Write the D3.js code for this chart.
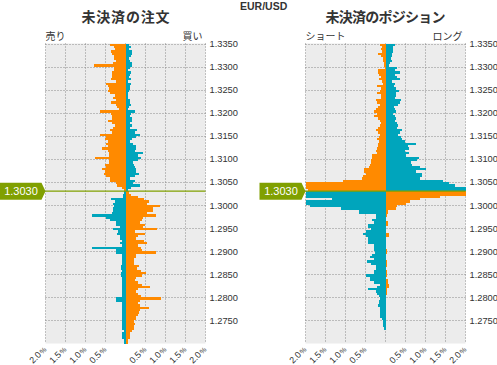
<!DOCTYPE html>
<html><head><meta charset="utf-8">
<script src="https://cdn.jsdelivr.net/npm/d3@7/dist/d3.min.js"></script>
<style>body{margin:0;background:#fff}svg{display:block}</style>
</head><body><svg id="c" width="497" height="365"></svg>
<script>
// ---------- data ----------
const pair = "EUR/USD";
const panelTitles = ["未決済の注文", "未決済のポジション"];
const sideLabels = [["売り", "買い"], ["ショート", "ロング"]];
const priceTicks = ["1.3350","1.3300","1.3250","1.3200","1.3150","1.3100","1.3050","1.3000","1.2950","1.2900","1.2850","1.2800","1.2750"];
const pctTicks = [-2, -1.5, -1, -0.5, 0, 0.5, 1, 1.5, 2];
const pctLabels = ["2.0", "1.5", "1.0", "0.5", "", "0.5", "1.0", "1.5", "2.0"];
const currentPrice = 1.3030;
const priceLabel = "1.3030";
const levelTop = 1.3350, levelBottom = 1.2700, levelStep = 0.0005;

// values in % per price bucket, from the top bucket (1.3345–1.3350) downwards
const orderSell = [
0.38,0.29,0.27,0.37,0.35,0.29,0.29,0.25,0.31,0.78,
0.28,0.29,0.33,0.35,0.33,0.37,0.23,0.49,0.43,0.42,
0.45,0.39,0.27,0.31,0.25,0.37,0.23,0.21,0.17,0.64,
0.37,0.33,0.35,0.43,0.35,0.27,0.31,0.39,0.33,0.64,
0.48,0.52,0.43,0.48,0.45,0.58,0.43,0.42,0.42,0.77,
0.42,0.42,0.52,0.50,0.58,0.52,0.53,0.48,0.38,0.39,
0.23,0.21,0.08,0.05,
0.03,0.06,0.06,0.37,0.27,0.31,
0.29,0.31,0.31,0.33,0.83,0.48,0.38,0.25,0.25,0.14,
0.31,0.18,0.22,0.14,0.14,0.10,0.14,0.10,0.83,0.25,
0.25,0.10,0.08,0.10,0.10,0.08,0.12,0.12,0.08,0.12,
0.12,0.10,0.10,0.08,0.10,0.10,0.10,0.10,0.10,0.10,
0.25,0.25,0.08,0.08,0.08,0.10,0.08,0.10,0.10,0.10,
0.08,0.10,0.08,0.10,0.05,0.08,0.08,0.08,0.05,0.04];
const orderBuy = [
0.09,0.13,0.09,0.15,0.15,0.13,0.09,0.11,0.15,0.15,
0.11,0.07,0.13,0.11,0.08,0.13,0.07,0.13,0.11,0.11,
0.09,0.07,0.05,0.07,0.11,0.11,0.13,0.08,0.07,0.23,
0.13,0.12,0.15,0.15,0.11,0.15,0.11,0.28,0.23,0.36,
0.26,0.15,0.11,0.19,0.25,0.25,0.23,0.43,0.30,0.38,
0.30,0.19,0.22,0.23,0.26,0.25,0.33,0.23,0.12,0.23,
0.19,0.36,0.13,0.05,
0.08,0.13,0.30,0.46,0.58,0.53,
0.86,0.68,0.68,0.54,0.75,0.44,0.42,0.36,0.48,0.43,
0.78,0.23,0.48,0.30,0.27,0.45,0.54,0.30,0.38,0.40,
0.76,0.25,0.25,0.22,0.22,0.20,0.33,0.28,0.38,0.50,
0.42,0.25,0.23,0.32,0.40,0.60,0.30,0.25,0.30,0.38,
0.88,0.35,0.30,0.35,0.58,0.35,0.33,0.30,0.25,0.25,
0.20,0.23,0.22,0.22,0.15,0.10,0.10,0.10,0.07,0.07];
const posShort = [
0.15,0.08,0.12,0.08,0.18,0.11,0.07,0.07,0.05,0.03,
0.02,0.20,0.18,0.17,0.12,0.17,0.09,0.07,0.22,0.12,
0.15,0.22,0.11,0.11,0.25,0.22,0.15,0.19,0.25,0.30,
0.22,0.28,0.19,0.15,0.12,0.15,0.18,0.25,0.18,0.15,
0.17,0.22,0.17,0.18,0.20,0.21,0.23,0.22,0.34,0.34,
0.36,0.36,0.40,0.42,0.55,0.54,0.48,0.57,0.58,1.07,
2.35,2.60,2.40,1.93,
2.70,2.90,2.50,1.35,2.40,2.20,
1.90,1.12,0.67,0.67,0.25,0.23,0.35,0.30,0.45,0.45,
0.36,0.50,0.57,0.50,0.44,0.45,0.44,0.30,0.30,0.28,
0.27,0.33,0.39,0.28,0.47,0.36,0.23,0.25,0.28,0.30,
0.49,0.40,0.38,0.28,0.15,0.22,0.43,0.23,0.22,0.17,
0.15,0.17,0.17,0.18,0.15,0.15,0.15,0.15,0.15,0.08,
0.07,0.07,0.07,0.05,0,0,0,0,0,0];
const posLong = [
0.23,0.18,0.18,0.18,0.17,0.15,0.14,0.15,0.10,0.08,
0.28,0.23,0.37,0.23,0.28,0.37,0.17,0.23,0.21,0.27,
0.34,0.27,0.27,0.23,0.39,0.35,0.30,0.20,0.23,0.25,
0.18,0.23,0.27,0.23,0.28,0.31,0.29,0.42,0.35,0.32,
0.39,0.40,0.48,0.75,0.56,0.58,0.48,0.58,0.52,0.83,
0.78,0.64,0.67,0.85,1.00,0.75,0.92,0.92,0.87,1.43,
1.58,1.73,2.20,2.50,
2.60,2.10,1.36,0.86,0.62,0.52,
0.29,0.27,0.05,0.05,0.03,0.02,0.02,0.05,0.05,0.02,
0.02,0.02,0.08,0.08,0.02,0.02,0,0,0,0.03,
0.03,0,0,0,0.03,0.03,0.03,0,0.03,0.03,
0.03,0,0.05,0.05,0.08,0.08,0.03,0.03,0.03,0,
0,0,0,0,0,0,0,0,0,0,
0,0,0,0,0,0,0,0,0,0];

// ---------- style ----------
const ORANGE = "#ff8a00", TEAL = "#00a5bc", GREEN = "#80a000";
const TEXT = "#333";
const LATIN = "'Liberation Sans', Arial, sans-serif";
const CJK = "'Noto Sans CJK JP', sans-serif";

const svg = d3.select("#c");
const y = d3.scaleLinear().domain([levelBottom, levelTop]).range([343.5, 43.5]);

const nLevels = orderSell.length;
const levels = d3.range(nLevels).map(i => +(levelTop - (i + 1) * levelStep).toFixed(4));

svg.append("text").attr("x", 240).attr("y", 9.5).text(pair)
  .attr("font-family", LATIN).attr("font-weight", "bold").attr("font-size", 10.5).attr("fill", TEXT);

const panels = [
  {left: 45.5, title: panelTitles[0], sides: sideLabels[0], L: orderSell, R: orderBuy, titleLen: 88, lblX: -0.5},
  {left: 305.5, title: panelTitles[1], sides: sideLabels[1], L: posShort, R: posLong, titleLen: 120, lblX: 259.5}
];

panels.forEach(p => {
  const w = 160;
  const x = d3.scaleLinear().domain([-2, 2]).range([p.left, p.left + w]).clamp(true);
  const g = svg.append("g");
  g.append("rect").attr("x", p.left).attr("y", y(levelTop)).attr("width", w)
    .attr("height", y(levelBottom) - y(levelTop)).attr("fill", "#ececec");

  // grid
  g.selectAll(".hg").data(priceTicks).join("line")
    .attr("x1", p.left).attr("x2", p.left + w)
    .attr("y1", d => Math.round(y(+d)) + 0.5).attr("y2", d => Math.round(y(+d)) + 0.5)
    .attr("stroke", "#8a8a8a").attr("stroke-dasharray", "1,2");
  g.selectAll(".vg").data(pctTicks).join("line")
    .attr("x1", d => x(d)).attr("x2", d => x(d))
    .attr("y1", y(levelTop)).attr("y2", y(levelBottom))
    .attr("stroke", "#8a8a8a").attr("stroke-dasharray", "1,2");

  const rows = levels.map((lv, i) => ({lv, l: p.L[i], r: p.R[i], above: lv >= currentPrice - 1e-9}));
  const bars = g.append("g").attr("shape-rendering", "crispEdges");
  bars.selectAll(".lb").data(rows).join("rect")
    .attr("x", d => x(-d.l)).attr("width", d => x(0) - x(-d.l))
    .attr("y", d => y(d.lv + levelStep)).attr("height", d => y(d.lv) - y(d.lv + levelStep))
    .attr("fill", d => d.above ? ORANGE : TEAL);
  bars.selectAll(".rb").data(rows).join("rect")
    .attr("x", x(0)).attr("width", d => x(d.r) - x(0))
    .attr("y", d => y(d.lv + levelStep)).attr("height", d => y(d.lv) - y(d.lv + levelStep))
    .attr("fill", d => d.above ? TEAL : ORANGE);

  // current price line
  g.append("line").attr("x1", p.left).attr("x2", p.left + w)
    .attr("y1", y(currentPrice)).attr("y2", y(currentPrice))
    .attr("stroke", GREEN).attr("stroke-width", 1.2);

  // titles
  g.append("text").attr("x", p.left + w / 2).attr("y", 22).attr("text-anchor", "middle")
    .attr("font-family", CJK).attr("font-weight", "bold").attr("font-size", 14)
    .attr("textLength", p.titleLen).attr("lengthAdjust", "spacing")
    .attr("fill", TEXT).text(p.title);
  g.append("text").attr("x", p.left).attr("y", 40).attr("font-family", CJK)
    .attr("font-size", 10).attr("fill", TEXT).text(p.sides[0]);
  g.append("text").attr("x", p.left + w - 3).attr("y", 40).attr("text-anchor", "end")
    .attr("font-family", CJK).attr("font-size", 10).attr("fill", TEXT).text(p.sides[1]);

  // y tick labels
  g.selectAll(".yt").data(priceTicks).join("text")
    .attr("x", p.left + w + 4).attr("y", d => y(+d) + 3.5)
    .attr("font-family", LATIN).attr("font-size", 9.3).attr("fill", TEXT).text(d => d);

  // x tick labels
  const xt = g.selectAll(".xt").data(pctTicks.map((v, i) => ({v, t: pctLabels[i]})).filter(d => d.t))
    .join("text")
    .attr("transform", d => `translate(${x(d.v) + 1.5},350) rotate(-45)`)
    .attr("text-anchor", "end").attr("font-family", LATIN).attr("font-size", 9).attr("fill", TEXT);
  xt.append("tspan").text(d => d.t);
  xt.append("tspan").attr("font-size", 7).attr("dx", 1).text("%");

  // current price marker
  const yc = y(currentPrice), tip = p.left, bx = p.lblX, bw = 42, h = 8.5;
  g.append("path")
    .attr("d", `M${bx},${yc - h}L${bx + bw},${yc - h}L${tip},${yc}L${bx + bw},${yc + h}L${bx},${yc + h}Z`)
    .attr("fill", GREEN);
  g.append("text").attr("x", bx + bw / 2 + 0.5).attr("y", yc + 4)
    .attr("text-anchor", "middle").attr("font-family", LATIN).attr("font-size", 11)
    .attr("fill", "#fff").text(priceLabel);
});
</script></body></html>
